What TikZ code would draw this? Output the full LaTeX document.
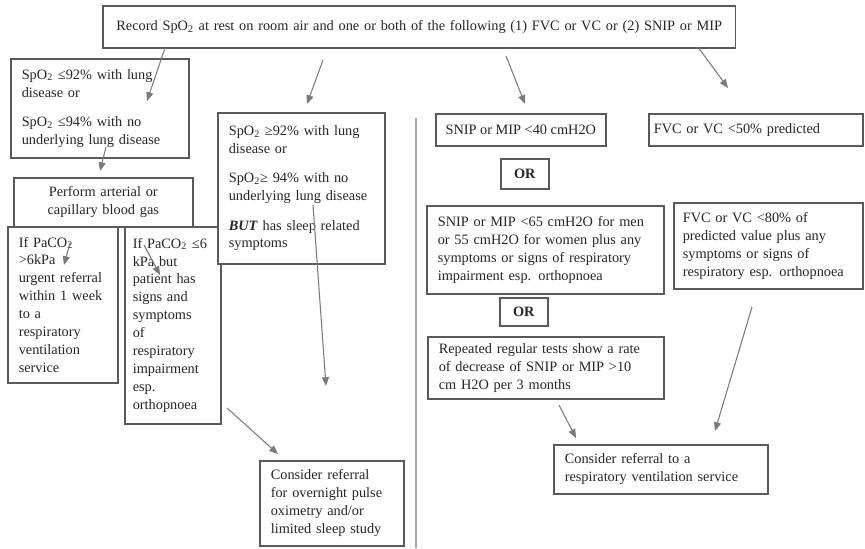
\documentclass[tikz,border=0pt]{standalone}
\usepackage{fontspec}
\setmainfont{Liberation Serif}
\usetikzlibrary{arrows.meta}
\definecolor{boxgray}{HTML}{5A5A5A}
\definecolor{arrgray}{HTML}{7A7A7A}
\definecolor{linegray}{HTML}{AAAAAA}
\tikzset{
  flowbox/.style={draw=boxgray,line width=0.9pt,fill=white,anchor=north west,inner xsep=0.22cm,inner ysep=0pt,align=left,text=black!85,font=\fontsize{8.15}{10.2}\selectfont},
  orbox/.style={flowbox,align=center,inner xsep=0pt,font=\fontsize{8.15}{10.2}\selectfont\bfseries},
  arr/.style={draw=arrgray,line width=0.6pt,-{Triangle[length=5pt,width=4pt]}}
}
\begin{document}
\begin{tikzpicture}[x=0.02cm,y=-0.02cm]
\useasboundingbox (0,0) rectangle (865,548);
% left half
\node[flowbox,align=center,inner xsep=0.12cm,text width=12.42cm,minimum height=0.84cm] (record) at (102,5) {Record SpO\textsubscript{2} at rest on room air and one or both of the following (1) FVC or VC or (2) SNIP or MIP};
\node[flowbox,text width=3.12cm,minimum height=1.98cm] (lowsat) at (10,58) {SpO\textsubscript{2} ≤92\% with lung\\disease or\\[6.5pt]SpO\textsubscript{2} ≤94\% with no\\underlying lung disease};
\node[flowbox,align=center,text width=3.14cm,minimum height=0.98cm] (bloodgas) at (13,177) {Perform arterial or\\capillary blood gas};
\node[flowbox,text width=1.76cm,minimum height=3.12cm] (highco) at (7,226) {If PaCO\textsubscript{2}\\>6kPa\\urgent referral\\within 1 week\\to a\\respiratory\\ventilation\\service};
\node[flowbox,inner xsep=0.16cm,text width=1.6cm,minimum height=3.94cm] (lowco) at (124,226) {If PaCO\textsubscript{2} ≤6\\kPa but\\patient has\\signs and\\symptoms\\of\\respiratory\\impairment\\esp.\\orthopnoea};
\node[flowbox,text width=2.9cm,minimum height=3.02cm] (highsat) at (217,112) {SpO\textsubscript{2} ≥92\% with lung\\disease or\\[6.5pt]SpO\textsubscript{2}≥ 94\% with no\\underlying lung disease\\[6.5pt]\textbf{\textit{BUT}} has sleep related\\symptoms};
\node[flowbox,text width=2.44cm,minimum height=1.7cm] (oximetry) at (259,460) {Consider referral\\for overnight pulse\\oximetry and/or\\limited sleep study};
% right half
\node[flowbox,align=center,inner xsep=0pt,minimum width=3.4cm,minimum height=0.64cm] (snipforty) at (435,113) {SNIP or MIP <40 cmH2O};
\node[flowbox,inner xsep=0.1cm,text width=4.08cm,minimum height=0.64cm] (fvcfifty) at (648,113) {FVC or VC <50\% predicted};
\node[orbox,text width=0.96cm,minimum height=0.6cm] (orone) at (500,158) {OR};
\node[flowbox,text width=4.3cm,minimum height=1.76cm] (snipsixty) at (426,205) {SNIP or MIP <65 cmH2O for men\\or 55 cmH2O for women plus any\\symptoms or signs of respiratory\\impairment esp. orthopnoea};
\node[flowbox,inner xsep=0.18cm,text width=3.42cm,minimum height=1.72cm] (fvceighty) at (673,202) {FVC or VC <80\% of\\predicted value plus any\\symptoms or signs of\\respiratory esp. orthopnoea};
\node[orbox,text width=0.96cm,minimum height=0.56cm] (ortwo) at (499,297) {OR};
\node[flowbox,text width=4.28cm,minimum height=1.24cm] (decline) at (427,336) {Repeated regular tests show a rate\\of decrease of SNIP or MIP >10\\cm H2O per 3 months};
\node[flowbox,text width=3.84cm,minimum height=0.98cm] (ventref) at (553,444) {Consider referral to a\\respiratory ventilation service};
% divider
\coordinate (divtop) at (416,118);
\coordinate (divbot) at (416,548);
\draw[linegray,line width=0.8pt] (divtop) -- (divbot);
% arrow ends
\coordinate (r1) at (165,48);  \coordinate (s1) at (147,101);
\coordinate (r2) at (323,60);  \coordinate (s2) at (307,104);
\coordinate (r3) at (506,56);  \coordinate (s3) at (525,104);
\coordinate (r4) at (698,47);  \coordinate (s4) at (728,88);
\coordinate (l1) at (106,147); \coordinate (g1) at (100,171);
\coordinate (h1) at (70,243);  \coordinate (h2) at (64,265);
\coordinate (k1) at (144,245); \coordinate (k2) at (160,275);
\coordinate (e1) at (313,205); \coordinate (e2) at (326,386);
\coordinate (k3) at (227,408); \coordinate (o1) at (278,454);
\coordinate (d1) at (559,405); \coordinate (v1) at (576,438);
\coordinate (f1) at (752,307); \coordinate (v2) at (715,431);
\draw[arr] (r1) -- (s1);
\draw[arr] (r2) -- (s2);
\draw[arr] (r3) -- (s3);
\draw[arr] (r4) -- (s4);
\draw[arr] (l1) -- (g1);
\draw[arr] (h1) -- (h2);
\draw[arr] (k1) -- (k2);
\draw[arr] (e1) -- (e2);
\draw[arr] (k3) -- (o1);
\draw[arr] (d1) -- (v1);
\draw[arr] (f1) -- (v2);
\end{tikzpicture}
\end{document}
